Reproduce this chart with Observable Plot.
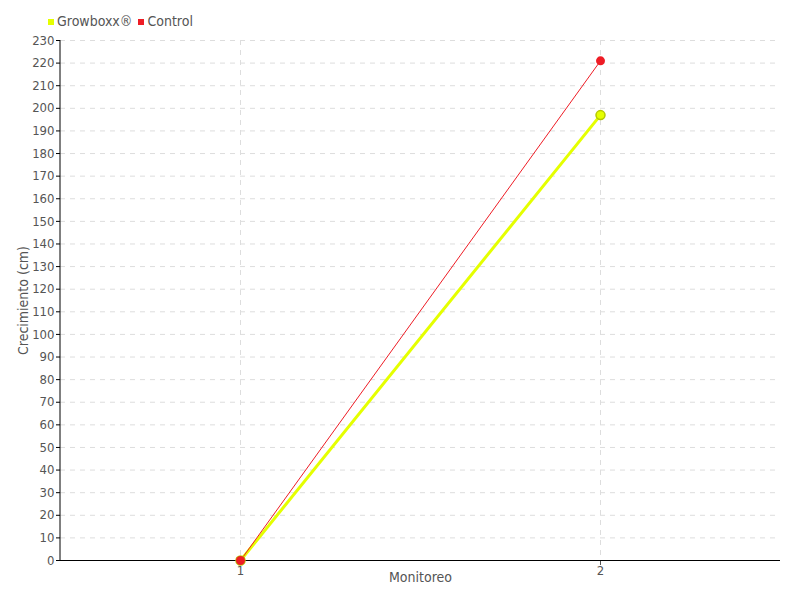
<!DOCTYPE html>
<html><head><meta charset="utf-8">
<script src="https://cdn.jsdelivr.net/npm/d3@7"></script>
<script src="https://cdn.jsdelivr.net/npm/@observablehq/plot@0.6"></script>
<style>
body{margin:0;background:#fff;font-family:"DejaVu Sans Condensed",sans-serif;}
#wrap{position:relative;width:800px;height:600px;}
#legend{position:absolute;left:48px;top:13px;font-size:14px;color:#555;display:flex;gap:6px;align-items:center;}
#legend span.sw{display:inline-block;width:6px;height:6px;margin-right:3px;vertical-align:middle;}
</style></head><body>
<div id="wrap"><div id="legend"></div></div>
<script>
const monitoreo = ["1", "2"];
const growboxx = [0, 197];
const control = [0, 221];
const seriesNames = ["Growboxx®", "Control"];
const seriesColors = ["#e5ff00", "#ee1c25"];
const yTicks = d3.range(0, 231, 10);

const dataG = monitoreo.map((m, i) => ({m, v: growboxx[i]}));
const dataC = monitoreo.map((m, i) => ({m, v: control[i]}));

const FONT = '"DejaVu Sans Condensed",sans-serif';
const chart = Plot.plot({
  width: 800, height: 600,
  marginTop: 40, marginBottom: 40, marginLeft: 60, marginRight: 20,
  style: {fontFamily: FONT, fontSize: "14px", color: "#555"},
  x: {type: "point", domain: monitoreo, padding: 0.5, label: null},
  y: {domain: [0, 230], label: null},
  marks: [
    Plot.gridY(yTicks, {stroke: "#ddd", strokeOpacity: 1, strokeDasharray: "5,5"}),
    Plot.gridX(monitoreo, {stroke: "#ddd", strokeOpacity: 1, strokeDasharray: "5,5"}),
    Plot.axisY(yTicks, {tickSize: 4, tickPadding: 2, stroke: "#000", fill: "#555", fontSize: 13}),
    Plot.axisX(monitoreo, {tickSize: 5, tickPadding: 0, stroke: "#555", fill: "#555", fontSize: 13}),
    Plot.ruleY([0], {stroke: "#000"}),
    Plot.line(dataG, {x: "m", y: "v", stroke: seriesColors[0], strokeWidth: 3}),
    Plot.line(dataC, {x: "m", y: "v", stroke: seriesColors[1], strokeWidth: 1}),
    Plot.dot(dataG, {x: "m", y: "v", r: 4.5, fill: seriesColors[0], stroke: "#b5c800", strokeWidth: 1.5}),
    Plot.dot(dataC, {x: "m", y: "v", r: 4.5, fill: seriesColors[1], stroke: "none"}),
    Plot.text(["Monitoreo"], {frameAnchor: "bottom", dy: 21, fill: "#555", fontSize: 14}),
    Plot.text(["Crecimiento (cm)"], {frameAnchor: "left", dx: -37, rotate: -90, textAnchor: "middle", fill: "#555", fontSize: 14})
  ]
});
const svg = d3.select(chart);
svg.append("line").attr("x1", 60).attr("x2", 60).attr("y1", 40).attr("y2", 560).attr("stroke", "#000");
document.getElementById("wrap").appendChild(chart);
chart.style.position = "absolute"; chart.style.left = "0"; chart.style.top = "0";
const lg = document.getElementById("legend");
lg.style.zIndex = 2;
seriesNames.forEach((n, i) => {
  const s = document.createElement("span");
  s.innerHTML = `<span class="sw" style="background:${seriesColors[i]}"></span>${n}`;
  lg.appendChild(s);
});
</script>
</body></html>
